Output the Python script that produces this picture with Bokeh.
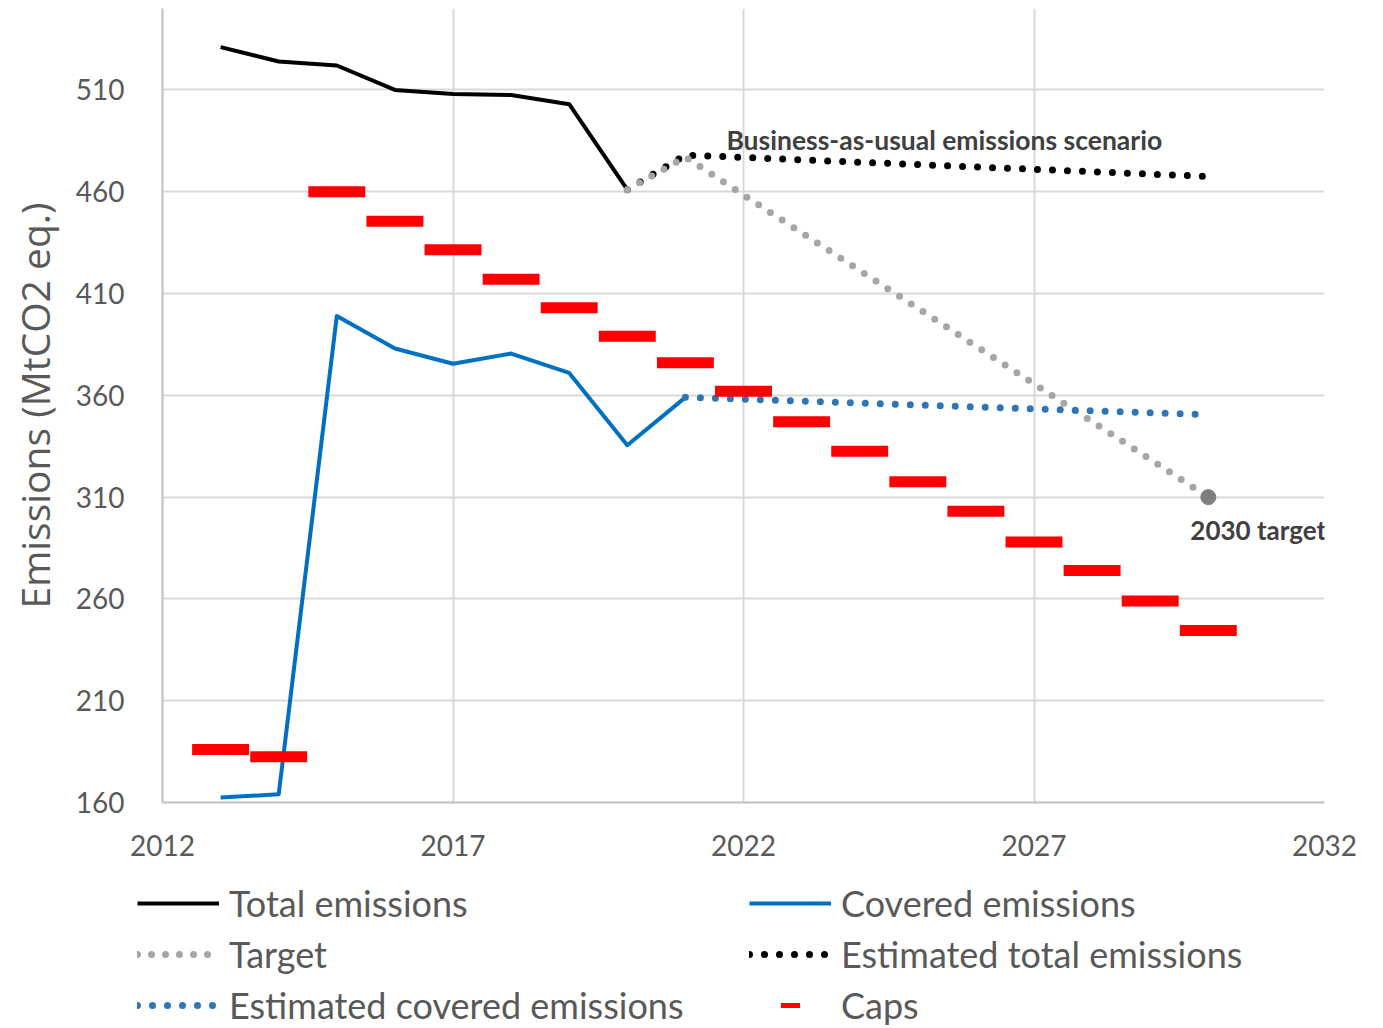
from bokeh.plotting import figure
from bokeh.models import Legend, LegendItem, Range1d, FixedTicker
from bokeh.embed import file_html
from bokeh.resources import INLINE
from bokeh.core.properties import value

# ---- data ----
total_years = [2013, 2014, 2015, 2016, 2017, 2018, 2019, 2020]
total_vals = [531, 524, 522, 510, 508, 507.5, 503, 461]

covered_years = [2013, 2014, 2015, 2016, 2017, 2018, 2019, 2020, 2021]
covered_vals = [162.5, 164, 399, 383, 375.5, 380.5, 371, 335.5, 359]

target_years = [2020, 2021, 2030]
target_vals = [461, 477, 310]

est_total_years = [2020, 2021, 2030]
est_total_vals = [461, 478, 467.5]

est_cov_years = [2021, 2030]
est_cov_vals = [359, 350.5]

cap_years = [2013, 2014, 2015, 2016, 2017, 2018, 2019, 2020, 2021,
             2022, 2023, 2024, 2025, 2026, 2027, 2028, 2029, 2030]
cap_vals = [186, 182.5, 460, 445.5, 431.5, 417, 403, 389, 376,
            362, 347, 332.5, 317.5, 303, 288, 274, 259, 244.5]

target_point_year = [2030]
target_point_val = [310]

x_ticks = [2012, 2017, 2022, 2027, 2032]
y_ticks = [160, 210, 260, 310, 360, 410, 460, 510]

legend_labels = ["Total emissions", "Covered emissions", "Target",
                 "Estimated total emissions", "Estimated covered emissions", "Caps"]

TXT = "#595959"
C_TOTAL = "black"
C_COV = "#0070C0"
C_TARGET = "#A6A6A6"
C_EST_COV = "#2E75B6"
C_CAP = "#FF0000"

p = figure(width=1383, height=870,
           x_range=Range1d(2012, 2032), y_range=Range1d(160, 550),
           output_backend="svg", toolbar_location=None,
           min_border_left=162, min_border_right=59,
           min_border_top=8, min_border_bottom=68)
p.outline_line_color = None
p.background_fill_color = "white"
p.border_fill_color = "white"

for ax in (p.xaxis[0], p.yaxis[0]):
    ax.axis_line_color = "#BFBFBF"
    ax.axis_line_width = 2
    ax.major_tick_line_color = None
    ax.minor_tick_line_color = None
    ax.major_label_text_font = "Lato"
    ax.major_label_text_font_size = "28px"
    ax.major_label_text_color = TXT

p.xaxis.ticker = FixedTicker(ticks=x_ticks)
p.yaxis.ticker = FixedTicker(ticks=y_ticks)
p.xaxis.major_label_standoff = 26
p.yaxis.major_label_standoff = 32
p.yaxis.axis_label = "Emissions (MtCO2 eq.)"
p.yaxis.axis_label_text_font = "Open Sans"
p.yaxis.axis_label_text_font_size = "39px"
p.yaxis.axis_label_text_font_style = "normal"
p.yaxis.axis_label_text_color = TXT
p.yaxis.axis_label_standoff = 12

p.xgrid.ticker = FixedTicker(ticks=x_ticks)
p.ygrid.ticker = FixedTicker(ticks=y_ticks)
p.xgrid.grid_line_color = "#D9D9D9"
p.ygrid.grid_line_color = "#D9D9D9"
p.xgrid.grid_line_width = 2
p.ygrid.grid_line_width = 2

line_total = dict(line_color=C_TOTAL, line_width=4, line_join="round")
line_cov = dict(line_color=C_COV, line_width=4, line_join="round")
line_target = dict(line_color=C_TARGET, line_width=7, line_dash="0 14", line_cap="round")
line_est_total = dict(line_color=C_TOTAL, line_width=7, line_dash="0 15", line_cap="round")
line_est_cov = dict(line_color=C_EST_COV, line_width=7, line_dash="0 15", line_cap="round")

p.line(total_years, total_vals, **line_total)
p.line(covered_years, covered_vals, **line_cov)
p.line(est_total_years, est_total_vals, **line_est_total)
p.line(target_years, target_vals, **line_target)
p.line(est_cov_years, est_cov_vals, **line_est_cov)
p.rect(x=cap_years, y=cap_vals, width=0.98, height=5.4, fill_color=C_CAP, line_color=None)
p.scatter(target_point_year, target_point_val, size=15, color="#7F7F7F")

p.text(x=[est_total_years[1]], y=[est_total_vals[1]], text=["Business-as-usual emissions scenario"],
       x_offset=41, y_offset=-15, text_font=value("Lato"), text_font_style="bold",
       text_font_size="26.5px", text_color="#404040", text_baseline="middle", text_align="left")
p.text(x=target_point_year, y=target_point_val, text=["2030 target"],
       x_offset=-18, y_offset=33, text_font=value("Lato"), text_font_style="bold",
       text_font_size="26px", text_color="#404040", text_baseline="middle", text_align="left")

# ---- legend strip under the chart (separate root, series ranges kept out of view) ----
lg = figure(width=1383, height=158, x_range=Range1d(0, 1), y_range=Range1d(0, 1),
            output_backend="svg", toolbar_location=None,
            x_axis_location=None, y_axis_location=None,
            min_border_left=0, min_border_right=0, min_border_top=0, min_border_bottom=0)
lg.outline_line_color = None
lg.xgrid.visible = False
lg.ygrid.visible = False
lg.background_fill_color = "white"
lg.border_fill_color = "white"

lr_total = lg.line(total_years, total_vals, **line_total)
lr_cov = lg.line(covered_years, covered_vals, **line_cov)
lr_target = lg.line(target_years, target_vals, **line_target)
lr_est_total = lg.line(est_total_years, est_total_vals, **line_est_total)
lr_est_cov = lg.line(est_cov_years, est_cov_vals, **line_est_cov)
lr_caps = lg.scatter(cap_years, cap_vals, marker="dash", size=20, line_color=C_CAP, line_width=5)

legend = Legend(items=[
    LegendItem(label=legend_labels[0], renderers=[lr_total]),
    LegendItem(label=legend_labels[1], renderers=[lr_cov]),
    LegendItem(label=legend_labels[2], renderers=[lr_target]),
    LegendItem(label=legend_labels[3], renderers=[lr_est_total]),
    LegendItem(label=legend_labels[4], renderers=[lr_est_cov]),
    LegendItem(label=legend_labels[5], renderers=[lr_caps]),
], orientation="horizontal", ncols=2, location=(137, -1),
    glyph_width=82, glyph_height=48, label_standoff=10, label_width=517,
    spacing=3, padding=0, margin=0,
    label_text_font="Lato", label_text_font_size="36px", label_text_color=TXT,
    border_line_color=None, background_fill_alpha=0)
lg.add_layout(legend, "center")

open("out.html", "w").write(file_html([p, lg], INLINE))
